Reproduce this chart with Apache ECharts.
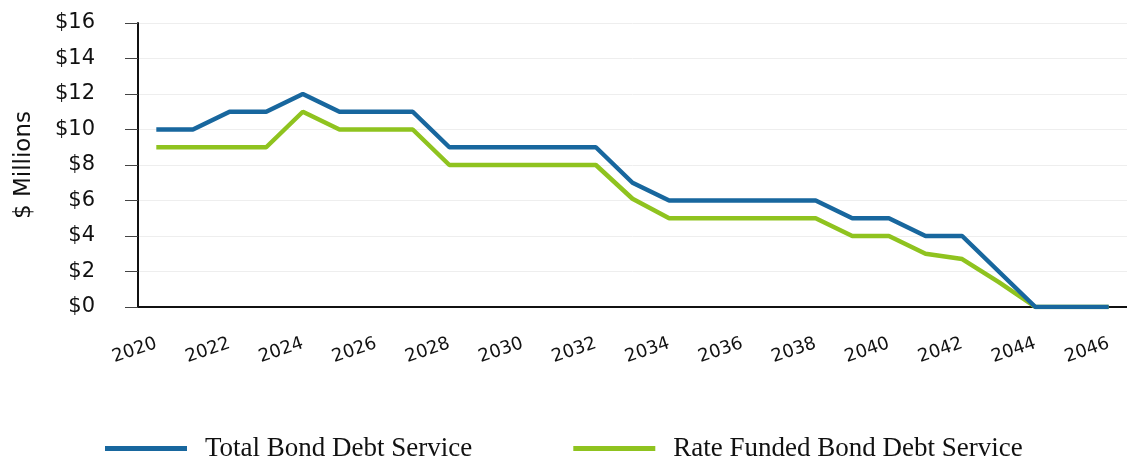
<!DOCTYPE html>
<html>
<head>
<meta charset="utf-8">
<script src="https://cdn.jsdelivr.net/npm/echarts@6/dist/echarts.min.js"></script>
<style>
html,body{margin:0;padding:0;background:#fff;}
#chart{width:1127px;height:460px;}
</style>
</head>
<body>
<div id="chart"></div>
<script>
const years = ['2020','2021','2022','2023','2024','2025','2026','2027','2028','2029','2030','2031','2032','2033','2034','2035','2036','2037','2038','2039','2040','2041','2042','2043','2044','2045','2046'];
const totalDebt = [10,10,11,11,12,11,11,11,9,9,9,9,9,7,6,6,6,6,6,5,5,4,4,2,0,0,0];
const rateFunded = [9,9,9,9,11,10,10,10,8,8,8,8,8,6.1,5,5,5,5,5,4,4,3,2.7,1.4,0,0,0];
const seriesNames = ['Total Bond Debt Service','Rate Funded Bond Debt Service'];
const yTicks = {min:0, max:16, interval:2};

const chart = echarts.init(document.getElementById('chart'));
chart.setOption({
  backgroundColor:'#fff',
  animation:false,
  grid:{left:138,right:0,top:23,bottom:153,containLabel:false},
  legend:{
    data:seriesNames,
    left:100, top:430,
    icon:'rect', itemWidth:82, itemHeight:5, itemGap:101,
    textStyle:{fontFamily:'Liberation Serif',fontSize:27,color:'#111',padding:[0,0,0,13]}
  },
  xAxis:{
    type:'category', data:years, boundaryGap:true,
    axisLine:{lineStyle:{color:'#111',width:2}},
    axisTick:{alignWithLabel:true,interval:1,length:13,lineStyle:{color:'#444',width:1}},
    axisLabel:{interval:1,rotate:19,margin:36,fontFamily:'DejaVu Sans',fontSize:18,color:'#111'},
    splitLine:{show:false}
  },
  yAxis:{
    type:'value', min:yTicks.min, max:yTicks.max, interval:yTicks.interval,
    name:'$ Millions', nameLocation:'middle', nameRotate:90, nameGap:102,
    nameTextStyle:{fontFamily:'DejaVu Sans',fontSize:23,color:'#111'},
    axisLine:{show:true,lineStyle:{color:'#111',width:2}},
    axisTick:{show:true,length:13,lineStyle:{color:'#444'}},
    axisLabel:{margin:43,fontFamily:'DejaVu Sans',fontSize:21,color:'#111',formatter:v=>'$'+v},
    splitLine:{lineStyle:{color:'#eeeeee'}}
  },
  series:[
    {name:seriesNames[0],type:'line',data:totalDebt,symbol:'none',lineStyle:{width:4.5,color:'#18679e'},itemStyle:{color:'#18679e'}},
    {name:seriesNames[1],type:'line',data:rateFunded,symbol:'none',lineStyle:{width:4.5,color:'#8fc31f'},itemStyle:{color:'#8fc31f'},z:1}
  ]
});
</script>
</body>
</html>
